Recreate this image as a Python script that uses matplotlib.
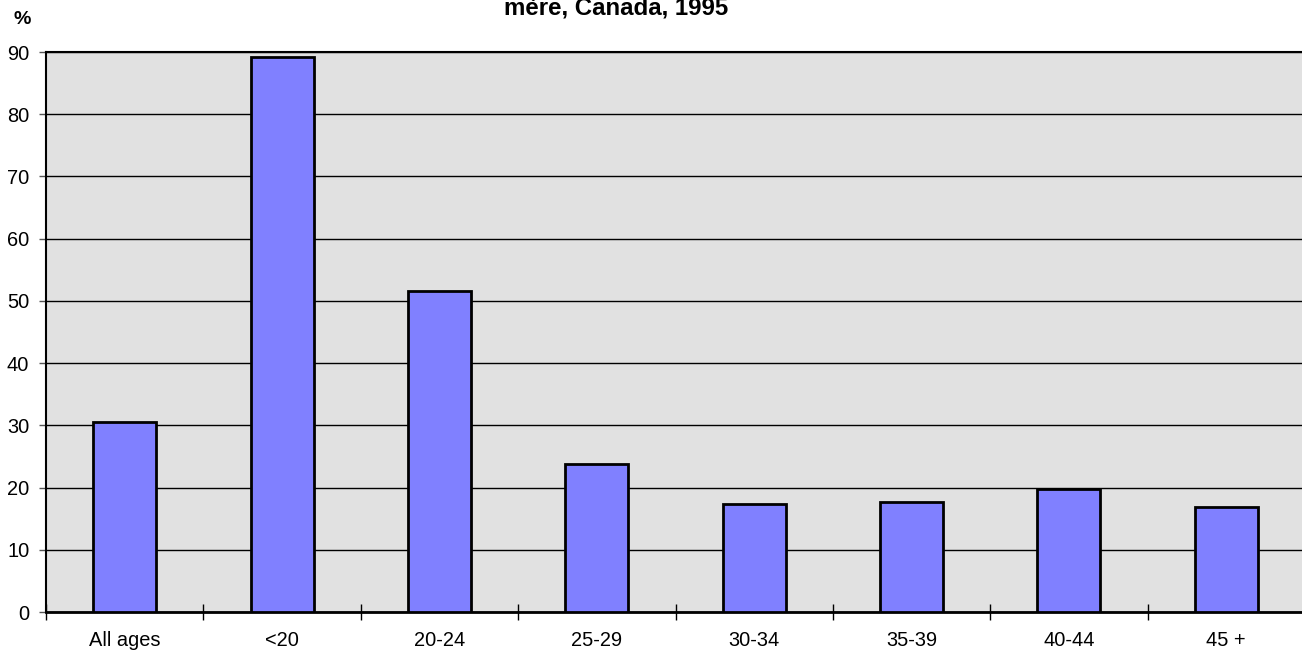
import matplotlib.pyplot as plt

plt.rcParams['font.family'] = ['Liberation Sans', 'DejaVu Sans']

categories = ['All ages', '<20', '20-24', '25-29', '30-34', '35-39', '40-44', '45 +']
values = [30.5, 89.2, 51.6, 23.8, 17.4, 17.7, 19.8, 16.9]
y_ticks = [0, 10, 20, 30, 40, 50, 60, 70, 80, 90]

fig = plt.figure(figsize=(13.02, 6.54), dpi=100)
ax = fig.add_axes([46 / 1302, 42 / 654, 1259 / 1302, 560 / 654])
ax.set_facecolor('#e1e1e1')

x = list(range(len(categories)))
ax.bar(x, values, width=0.4, color='#8080ff', edgecolor='black', linewidth=2, zorder=3)

ax.set_xlim(-0.5, len(categories) - 0.5)
ax.set_ylim(0, 90)
ax.set_yticks(y_ticks)
ax.yaxis.grid(True, color='black', linewidth=1, zorder=1)
ax.set_axisbelow(True)

# labels sit in the middle, tick marks at the category boundaries
ax.set_xticks(x)
ax.set_xticklabels(categories, fontsize=14.4)
ax.tick_params(axis='x', which='major', length=0, pad=14)
ax.set_xticks([i - 0.5 for i in range(len(categories) + 1)], minor=True)
ax.tick_params(axis='x', which='minor', direction='inout', length=12, width=1, color='black')
ax.tick_params(axis='y', labelsize=14.4, length=5, width=1, color='#555555', pad=7)

for side in ['top', 'left', 'right']:
    ax.spines[side].set_linewidth(1.5)
ax.spines['bottom'].set_linewidth(2)

fig.text(616 / 1302, 1 - 15 / 654, 'mère, Canada, 1995', ha='center', va='baseline',
         fontsize=17.3, fontweight='bold')
fig.text(22 / 1302, 1 - 20 / 654, '%', ha='center', va='center',
         fontsize=14, fontweight='bold')

fig.savefig('out.png', dpi=100)
